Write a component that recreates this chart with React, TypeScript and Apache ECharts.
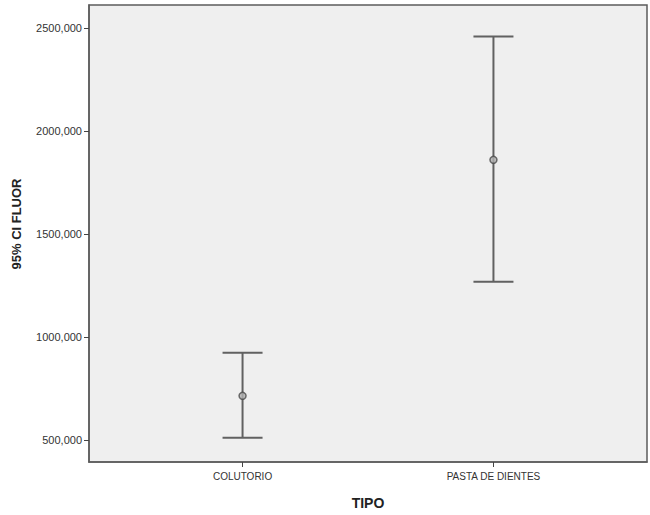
import React, { useEffect, useRef } from "react";
import * as echarts from "echarts";

const categories = ["COLUTORIO", "PASTA DE DIENTES"];
const means = [716, 1861];
const lower = [513, 1269];
const upper = [925, 2459];
const yTicks = [500, 1000, 1500, 2000, 2500];

const FONT = "'Liberation Sans', Arial, sans-serif";

export default function App() {
  const ref = useRef<HTMLDivElement>(null);
  useEffect(() => {
    if (!ref.current) return;
    const chart = echarts.init(ref.current, undefined, { renderer: "svg" });
    const positions = categories.map((_, i) => i + 1);
    chart.setOption({
      animation: false,
      backgroundColor: "#ffffff",
      grid: {
        left: 89,
        top: 5,
        right: 3,
        bottom: 51,
        show: true,
        backgroundColor: "#efefef",
        borderColor: "#5c5c5c",
        borderWidth: 1.5,
      },
      graphic: [
        {
          type: "text",
          x: 16,
          y: 224,
          rotation: Math.PI / 2,
          style: {
            text: "95% CI FLUOR",
            fontFamily: FONT,
            fontSize: 13,
            fontWeight: "bold",
            fill: "#222",
            align: "center",
            verticalAlign: "middle",
          },
        },
      ],
      xAxis: {
        type: "value",
        min: 0.388,
        max: 2.612,
        splitLine: { show: false },
        axisLine: { show: true, lineStyle: { color: "#5c5c5c", width: 1.5 } },
        axisTick: {
          show: true,
          customValues: positions,
          length: 5,
          lineStyle: { color: "#444", width: 1 },
        },
        axisLabel: {
          customValues: positions,
          formatter: (v: number) => categories[Math.round(v) - 1] ?? "",
          color: "#333",
          fontFamily: FONT,
          fontSize: 10,
          margin: 9,
        },
        name: "TIPO",
        nameLocation: "middle",
        nameGap: 34,
        nameTextStyle: { fontFamily: FONT, fontSize: 14, fontWeight: "bold", color: "#222" },
      },
      yAxis: {
        type: "value",
        min: 395,
        max: 2612,
        splitLine: { show: false },
        axisLine: { show: true, lineStyle: { color: "#5c5c5c", width: 1.5 } },
        axisTick: {
          show: true,
          customValues: yTicks,
          length: 5,
          lineStyle: { color: "#444", width: 1 },
        },
        axisLabel: {
          customValues: yTicks,
          formatter: (v: number) => v.toFixed(3).replace(".", ","),
          color: "#333",
          fontFamily: FONT,
          fontSize: 11,
          margin: 7,
        },
      },
      series: [
        {
          type: "custom",
          data: positions.map((p, i) => [p, lower[i], upper[i]]),
          renderItem: (params: any, api: any) => {
            const x = api.value(0);
            const lo = api.coord([x, api.value(1)]);
            const hi = api.coord([x, api.value(2)]);
            const half = 20;
            const style = { stroke: "#616161", lineWidth: 2 };
            return {
              type: "group",
              children: [
                { type: "line", shape: { x1: lo[0], y1: lo[1], x2: hi[0], y2: hi[1] }, style },
                { type: "line", shape: { x1: hi[0] - half, y1: hi[1], x2: hi[0] + half, y2: hi[1] }, style },
                { type: "line", shape: { x1: lo[0] - half, y1: lo[1], x2: lo[0] + half, y2: lo[1] }, style },
              ],
            };
          },
          z: 2,
        },
        {
          type: "scatter",
          data: positions.map((p, i) => [p, means[i]]),
          symbol: "circle",
          symbolSize: 7,
          itemStyle: { color: "#b0b0b0", borderColor: "#4a4a4a", borderWidth: 1.5 },
          z: 3,
        },
      ],
    });
    return () => chart.dispose();
  }, []);
  return <div ref={ref} style={{ width: 650, height: 515, position: "absolute", left: 0, top: 0 }} />;
}
